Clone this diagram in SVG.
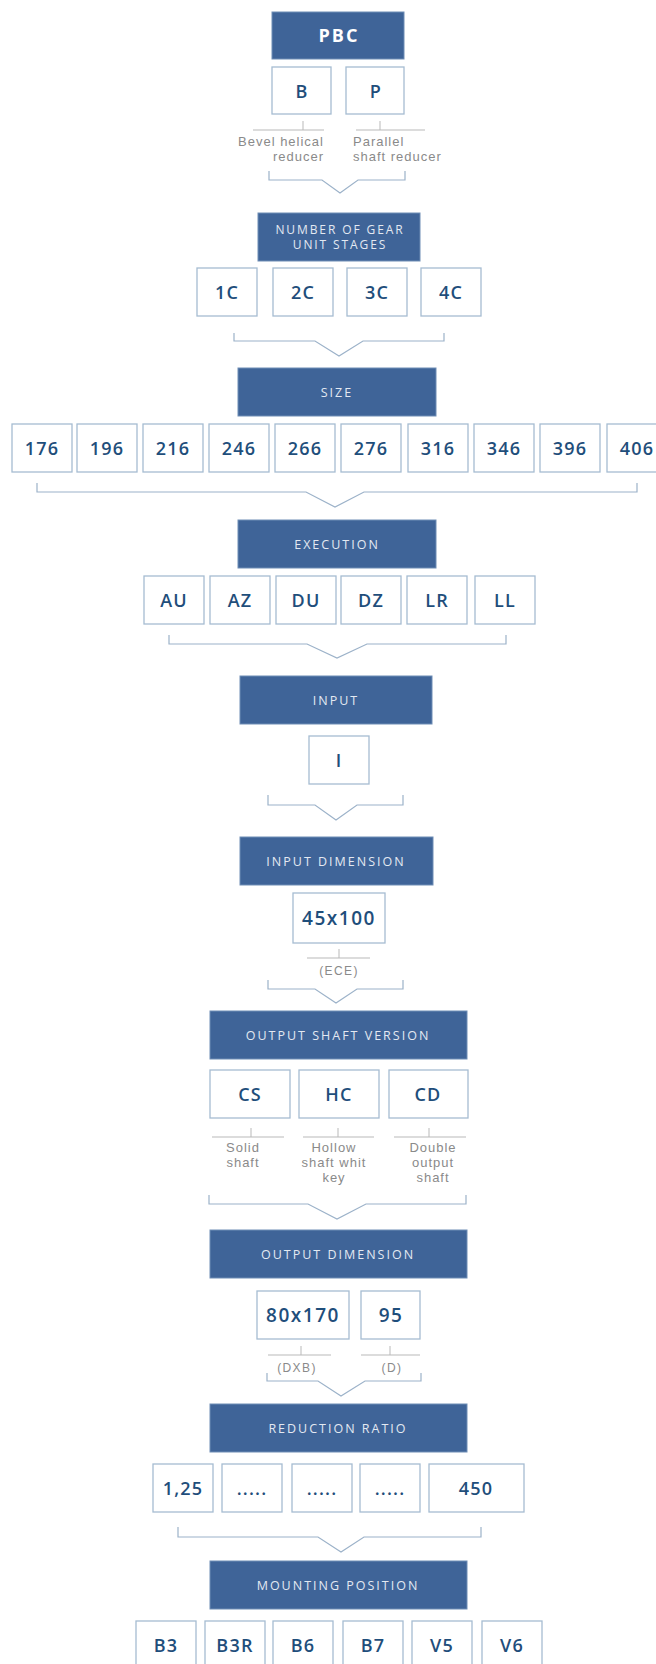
<svg xmlns="http://www.w3.org/2000/svg" width="656" height="1664" viewBox="0 0 656 1664">
<style>
.hdr{fill:#3f6498;stroke:#6f8db5;stroke-width:1}
.ht{font-family:"Open Sans","Liberation Sans",sans-serif;font-size:12.5px;letter-spacing:2px;fill:#e3e9f2;text-anchor:middle}
.hb{font-family:"Open Sans","Liberation Sans",sans-serif;font-size:18px;font-weight:700;letter-spacing:2px;fill:#ffffff;text-anchor:middle}
.box{fill:#ffffff;stroke:#a6bcd2;stroke-width:1.3}
.bt{font-family:"Open Sans","Liberation Sans",sans-serif;font-size:18px;font-weight:600;letter-spacing:1.2px;fill:#1f4e7b;text-anchor:middle}
.bw{font-size:19px;letter-spacing:1.5px}
.an{fill:none;stroke:#b9b9b9;stroke-width:1}
.at{font-family:"Liberation Sans",Arial,sans-serif;font-size:13px;letter-spacing:1px;fill:#8a8a8a}
.ap{font-size:12px;letter-spacing:1.4px;text-anchor:middle}
.br{fill:none;stroke:#9cb2c9;stroke-width:1.2}
</style>

<g id="pbc"><rect class="hdr" x="272" y="12" width="132" height="47"/><text class="hb" x="339" y="42">PBC</text></g>
<g id="b"><rect class="box" x="272" y="67" width="59" height="47"/><text class="bt" x="302" y="98">B</text></g>
<g id="p"><rect class="box" x="346" y="67" width="58" height="47"/><text class="bt" x="376" y="98">P</text></g>
<g id="b-note"><path class="an" d="M253 130H324M303 121V130"/><text class="at" x="324" y="146" text-anchor="end">Bevel helical</text><text class="at" x="324" y="161" text-anchor="end">reducer</text></g>
<g id="p-note"><path class="an" d="M356 130H425M380 121V130"/><text class="at" x="353" y="146">Parallel</text><text class="at" x="353" y="161">shaft reducer</text></g>

<g id="stages"><rect class="hdr" x="258" y="213" width="162" height="48"/><text class="ht" x="340" y="234" style="font-size:12px;letter-spacing:1.9px">NUMBER OF GEAR</text><text class="ht" x="340" y="249" style="font-size:12px;letter-spacing:1.9px">UNIT STAGES</text></g>
<g id="c1"><rect class="box" x="197" y="268" width="60" height="48"/><text class="bt" x="227" y="299">1C</text></g>
<g id="c2"><rect class="box" x="273" y="268" width="60" height="48"/><text class="bt" x="303" y="299">2C</text></g>
<g id="c3"><rect class="box" x="347" y="268" width="60" height="48"/><text class="bt" x="377" y="299">3C</text></g>
<g id="c4"><rect class="box" x="421" y="268" width="60" height="48"/><text class="bt" x="451" y="299">4C</text></g>

<g id="size"><rect class="hdr" x="238" y="368" width="198" height="48"/><text class="ht" x="337" y="397">SIZE</text></g>
<g id="s176"><rect class="box" x="12" y="424" width="60" height="48"/><text class="bt" x="42" y="455">176</text></g>
<g id="s196"><rect class="box" x="77" y="424" width="60" height="48"/><text class="bt" x="107" y="455">196</text></g>
<g id="s216"><rect class="box" x="143" y="424" width="60" height="48"/><text class="bt" x="173" y="455">216</text></g>
<g id="s246"><rect class="box" x="209" y="424" width="60" height="48"/><text class="bt" x="239" y="455">246</text></g>
<g id="s266"><rect class="box" x="275" y="424" width="60" height="48"/><text class="bt" x="305" y="455">266</text></g>
<g id="s276"><rect class="box" x="341" y="424" width="60" height="48"/><text class="bt" x="371" y="455">276</text></g>
<g id="s316"><rect class="box" x="408" y="424" width="60" height="48"/><text class="bt" x="438" y="455">316</text></g>
<g id="s346"><rect class="box" x="474" y="424" width="60" height="48"/><text class="bt" x="504" y="455">346</text></g>
<g id="s396"><rect class="box" x="540" y="424" width="60" height="48"/><text class="bt" x="570" y="455">396</text></g>
<g id="s406"><rect class="box" x="607" y="424" width="60" height="48"/><text class="bt" x="637" y="455">406</text></g>

<g id="execution"><rect class="hdr" x="238" y="520" width="198" height="48"/><text class="ht" x="337" y="549">EXECUTION</text></g>
<g id="au"><rect class="box" x="144" y="576" width="60" height="48"/><text class="bt" x="174" y="607">AU</text></g>
<g id="az"><rect class="box" x="210" y="576" width="60" height="48"/><text class="bt" x="240" y="607">AZ</text></g>
<g id="du"><rect class="box" x="276" y="576" width="60" height="48"/><text class="bt" x="306" y="607">DU</text></g>
<g id="dz"><rect class="box" x="341" y="576" width="60" height="48"/><text class="bt" x="371" y="607">DZ</text></g>
<g id="lr"><rect class="box" x="407" y="576" width="60" height="48"/><text class="bt" x="437" y="607">LR</text></g>
<g id="ll"><rect class="box" x="475" y="576" width="60" height="48"/><text class="bt" x="505" y="607">LL</text></g>

<g id="input"><rect class="hdr" x="240" y="676" width="192" height="48"/><text class="ht" x="336" y="705">INPUT</text></g>
<g id="i"><rect class="box" x="309" y="736" width="60" height="48"/><text class="bt" x="339" y="767">I</text></g>

<g id="inputdim"><rect class="hdr" x="240" y="837" width="193" height="48"/><text class="ht" x="336" y="866">INPUT DIMENSION</text></g>
<g id="d45"><rect class="box" x="293" y="893" width="92" height="50"/><text class="bt bw" x="339" y="925">45x100</text></g>
<g id="ece-note"><path class="an" d="M307 958H370M339 949V958"/><text class="at ap" x="339" y="975">(ECE)</text></g>

<g id="shaft"><rect class="hdr" x="210" y="1011" width="257" height="48"/><text class="ht" x="338" y="1040">OUTPUT SHAFT VERSION</text></g>
<g id="cs"><rect class="box" x="210" y="1070" width="80" height="48"/><text class="bt" x="250" y="1101">CS</text></g>
<g id="hc"><rect class="box" x="299" y="1070" width="80" height="48"/><text class="bt" x="339" y="1101">HC</text></g>
<g id="cd"><rect class="box" x="389" y="1070" width="79" height="48"/><text class="bt" x="428" y="1101">CD</text></g>
<g id="cs-note"><path class="an" d="M212 1137H284M251 1128V1137"/><text class="at" x="243" y="1152" text-anchor="middle">Solid</text><text class="at" x="243" y="1167" text-anchor="middle">shaft</text></g>
<g id="hc-note"><path class="an" d="M303 1137H374M338 1128V1137"/><text class="at" x="334" y="1152" text-anchor="middle">Hollow</text><text class="at" x="334" y="1167" text-anchor="middle">shaft whit</text><text class="at" x="334" y="1182" text-anchor="middle">key</text></g>
<g id="cd-note"><path class="an" d="M394 1137H466M429 1128V1137"/><text class="at" x="433" y="1152" text-anchor="middle">Double</text><text class="at" x="433" y="1167" text-anchor="middle">output</text><text class="at" x="433" y="1182" text-anchor="middle">shaft</text></g>

<g id="outdim"><rect class="hdr" x="210" y="1230" width="257" height="48"/><text class="ht" x="338" y="1259">OUTPUT DIMENSION</text></g>
<g id="d80"><rect class="box" x="257" y="1291" width="92" height="48"/><text class="bt bw" x="303" y="1322">80x170</text></g>
<g id="d95"><rect class="box" x="361" y="1291" width="59" height="48"/><text class="bt bw" x="391" y="1322">95</text></g>
<g id="dxb-note"><path class="an" d="M268 1355H331M301 1346V1355"/><text class="at ap" x="297" y="1372">(DXB)</text></g>
<g id="d-note"><path class="an" d="M361 1355H420M390 1346V1355"/><text class="at ap" x="392" y="1372">(D)</text></g>

<g id="ratio"><rect class="hdr" x="210" y="1404" width="257" height="48"/><text class="ht" x="338" y="1433">REDUCTION RATIO</text></g>
<g id="r125"><rect class="box" x="153" y="1464" width="60" height="48"/><text class="bt" x="183" y="1495">1,25</text></g>
<g id="rd1"><rect class="box" x="222" y="1464" width="60" height="48"/><text class="bt" x="252" y="1495">.....</text></g>
<g id="rd2"><rect class="box" x="292" y="1464" width="60" height="48"/><text class="bt" x="322" y="1495">.....</text></g>
<g id="rd3"><rect class="box" x="360" y="1464" width="60" height="48"/><text class="bt" x="390" y="1495">.....</text></g>
<g id="r450"><rect class="box" x="429" y="1464" width="95" height="48"/><text class="bt" x="476" y="1495">450</text></g>

<g id="mounting"><rect class="hdr" x="210" y="1561" width="257" height="48"/><text class="ht" x="338" y="1590">MOUNTING POSITION</text></g>
<g id="b3"><rect class="box" x="136" y="1621" width="60" height="48"/><text class="bt" x="166" y="1652">B3</text></g>
<g id="b3r"><rect class="box" x="205" y="1621" width="60" height="48"/><text class="bt" x="235" y="1652">B3R</text></g>
<g id="b6"><rect class="box" x="273" y="1621" width="60" height="48"/><text class="bt" x="303" y="1652">B6</text></g>
<g id="b7"><rect class="box" x="343" y="1621" width="60" height="48"/><text class="bt" x="373" y="1652">B7</text></g>
<g id="v5"><rect class="box" x="412" y="1621" width="60" height="48"/><text class="bt" x="442" y="1652">V5</text></g>
<g id="v6"><rect class="box" x="482" y="1621" width="60" height="48"/><text class="bt" x="512" y="1652">V6</text></g>

<g id="connectors">
<path class="br" d="M269 171V180H322L340 193L358 180H405V171"/>
<path class="br" d="M234 333V341H315L339 356L363 341H444V333"/>
<path class="br" d="M37 483V492H306L335 507L364 492H637V483"/>
<path class="br" d="M169 635V644H307L337 658L367 644H506V635"/>
<path class="br" d="M268 795V805H315L336 820L357 805H403V795"/>
<path class="br" d="M268 980V989H315L336 1003L357 989H403V980"/>
<path class="br" d="M209 1195V1204H308L337 1219L366 1204H466V1195"/>
<path class="br" d="M267 1373V1381H318L341 1396L365 1381H421V1373"/>
<path class="br" d="M178 1527V1537H318L341 1552L364 1537H481V1527"/>
</g>
</svg>
